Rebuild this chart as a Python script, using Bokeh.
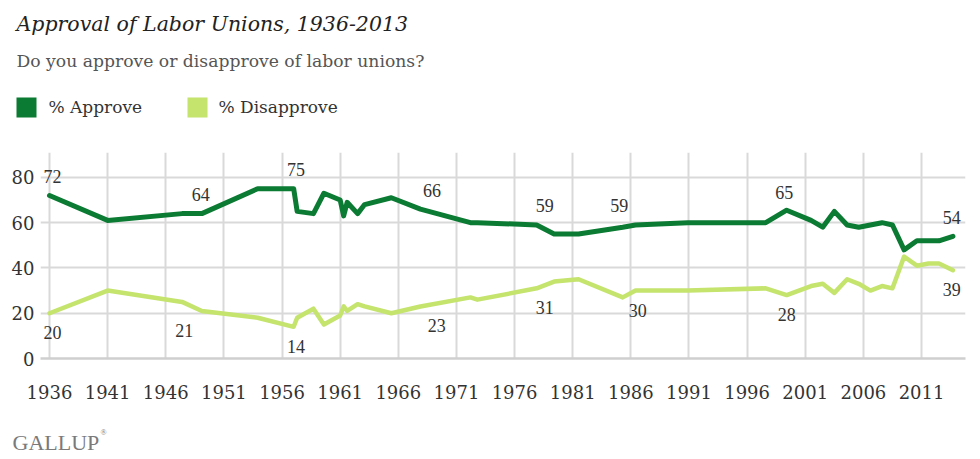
from bokeh.plotting import figure
from bokeh.layouts import column
from bokeh.models import (Range1d, FixedTicker, Label, LabelSet, ColumnDataSource)
from bokeh.embed import file_html
from bokeh.resources import INLINE

# ---------------- data ----------------
years = [1936.0, 1941.0, 1947.4, 1949.1, 1953.9, 1957.0, 1957.3, 1958.7, 1959.6,
         1961.0, 1961.3, 1961.6, 1962.5, 1963.1, 1965.4, 1967.9, 1972.2, 1972.8,
         1977.9, 1979.4, 1981.5, 1985.3, 1986.4, 1990.9, 1997.6, 1999.4, 2001.5,
         2002.5, 2003.5, 2004.6, 2005.6, 2006.6, 2007.6, 2008.5, 2009.5, 2010.6,
         2011.6, 2012.5, 2013.7]
approve = [72, 61, 64, 64, 75, 75, 65, 64, 73,
           70, 63, 69, 64, 68, 71, 66, 60, 60,
           59, 55, 55, 58, 59, 60, 60, 65.5, 61,
           58, 65, 59, 58, 59, 60, 59, 48, 52,
           52, 52, 54]
disapprove = [20, 30, 25, 21, 18, 14, 18, 22, 15,
              19, 23, 21, 24, 23, 20, 23, 27, 26,
              31, 34, 35, 27, 30, 30, 31, 28, 32,
              33, 29, 35, 33, 30, 32, 31, 45, 41,
              42, 42, 39]

approve_label_years = [1936.25, 1949.0, 1957.2, 1968.9, 1978.6, 1985.0, 1999.2, 2013.6]
approve_label_values = [72, 64, 75, 66, 59, 59, 65, 54]
disapprove_label_years = [1936.25, 1947.6, 1957.2, 1969.3, 1978.6, 1986.6, 1999.4, 2013.6]
disapprove_label_values = [20, 21, 14, 23, 31, 30, 28, 39]

x_ticks = [1936, 1941, 1946, 1951, 1956, 1961, 1966, 1971, 1976, 1981, 1986,
           1991, 1996, 2001, 2006, 2011]
y_ticks = [0, 20, 40, 60, 80]

title_text = "Approval of Labor Unions, 1936-2013"
subtitle_text = "Do you approve or disapprove of labor unions?"
series_names = ["% Approve", "% Disapprove"]
source_text = "GALLUP"

# ---------------- style ----------------
DARK = "#0b7a33"
LIGHT = "#c4e46e"
SERIF = "DejaVu Serif"
TXT = "#333333"
GRID = "#d9d9d9"
W = 975


def blank(height):
    f = figure(width=W, height=height, output_backend="svg", toolbar_location=None,
               x_range=Range1d(0, W), y_range=Range1d(height, 0),
               min_border_left=0, min_border_right=0,
               min_border_top=0, min_border_bottom=0, frame_align=False)
    f.axis.visible = False
    f.grid.visible = False
    f.outline_line_color = None
    f.background_fill_color = "white"
    f.border_fill_color = "white"
    return f


# ---------------- header (title, subtitle, legend) ----------------
head = blank(142)
head.add_layout(Label(x=16, y=23.5, text=title_text, text_font=SERIF,
                      text_font_style="italic", text_font_size="20.5px",
                      text_baseline="alphabetic", text_color="#222222"))
head.add_layout(Label(x=16, y=60, text=subtitle_text, text_font=SERIF,
                      text_font_size="17.2px", text_baseline="alphabetic",
                      text_color="#555555"))
# legend swatches and labels
sw_left = [16, 187]
head.quad(left=sw_left, right=[v + 20 for v in sw_left], top=[97, 97],
          bottom=[117, 117], fill_color=[DARK, LIGHT], line_color=None)
for xl, name in zip([48, 218], series_names):
    head.add_layout(Label(x=xl, y=106, text=name, text_font=SERIF,
                          text_font_size="17px", text_baseline="alphabetic",
                          text_color=TXT))

# ---------------- main chart ----------------
p = figure(width=W, height=270, output_backend="svg", toolbar_location=None,
           x_range=Range1d(1935.226, 2014.781), y_range=Range1d(0, 91),
           min_border_left=40, min_border_right=10, min_border_top=10,
           min_border_bottom=54)
p.outline_line_color = None
p.background_fill_color = "white"
p.border_fill_color = "white"

p.xaxis.ticker = FixedTicker(ticks=x_ticks)
p.xaxis.major_label_overrides = {t: str(t) for t in x_ticks}
p.xaxis.axis_line_color = "#cfcfcf"
p.xaxis.axis_line_width = 2.5
p.xaxis.major_tick_line_color = None
p.xaxis.minor_tick_line_color = None
p.xaxis.major_label_standoff = 20
p.xaxis.major_label_text_font = SERIF
p.xaxis.major_label_text_font_size = "18px"
p.xaxis.major_label_text_color = TXT

p.yaxis.ticker = FixedTicker(ticks=y_ticks)
p.yaxis.axis_line_color = None
p.yaxis.major_tick_line_color = None
p.yaxis.minor_tick_line_color = None
p.yaxis.major_label_standoff = 0
p.yaxis.major_label_text_font = SERIF
p.yaxis.major_label_text_font_size = "18px"
p.yaxis.major_label_text_color = TXT

p.xgrid.ticker = FixedTicker(ticks=x_ticks)
p.ygrid.ticker = FixedTicker(ticks=y_ticks)
for g in (p.xgrid, p.ygrid):
    g.grid_line_color = GRID
    g.grid_line_width = 2

src = ColumnDataSource(dict(year=years, approve=approve, disapprove=disapprove))
p.line("year", "disapprove", source=src, line_color=LIGHT, line_width=4.5,
       line_join="round", line_cap="round")
p.line("year", "approve", source=src, line_color=DARK, line_width=5,
       line_join="round", line_cap="round")

a_src = ColumnDataSource(dict(x=approve_label_years, y=approve_label_values,
                              t=[str(v) for v in approve_label_values]))
d_src = ColumnDataSource(dict(x=disapprove_label_years, y=disapprove_label_values,
                              t=[str(v) for v in disapprove_label_values]))
p.add_layout(LabelSet(x="x", y="y", text="t", source=a_src, y_offset=19,
                      text_align="center", text_baseline="middle",
                      text_font=SERIF, text_font_size="18px", text_color=TXT))
p.add_layout(LabelSet(x="x", y="y", text="t", source=d_src, y_offset=-19.5,
                      text_align="center", text_baseline="middle",
                      text_font=SERIF, text_font_size="18px", text_color=TXT))

# ---------------- footer ----------------
foot = blank(43)
foot.add_layout(Label(x=12, y=30, text=source_text, text_font="Liberation Serif",
                      text_font_size="22px", text_baseline="alphabetic",
                      text_color="#7a7a7a"))
foot.add_layout(Label(x=100, y=20, text="\u00ae", text_font="Liberation Serif",
                      text_font_size="8px", text_baseline="alphabetic",
                      text_color="#7a7a7a"))

layout = column(head, p, foot, spacing=0)
open("out.html", "w").write(file_html(layout, INLINE))
